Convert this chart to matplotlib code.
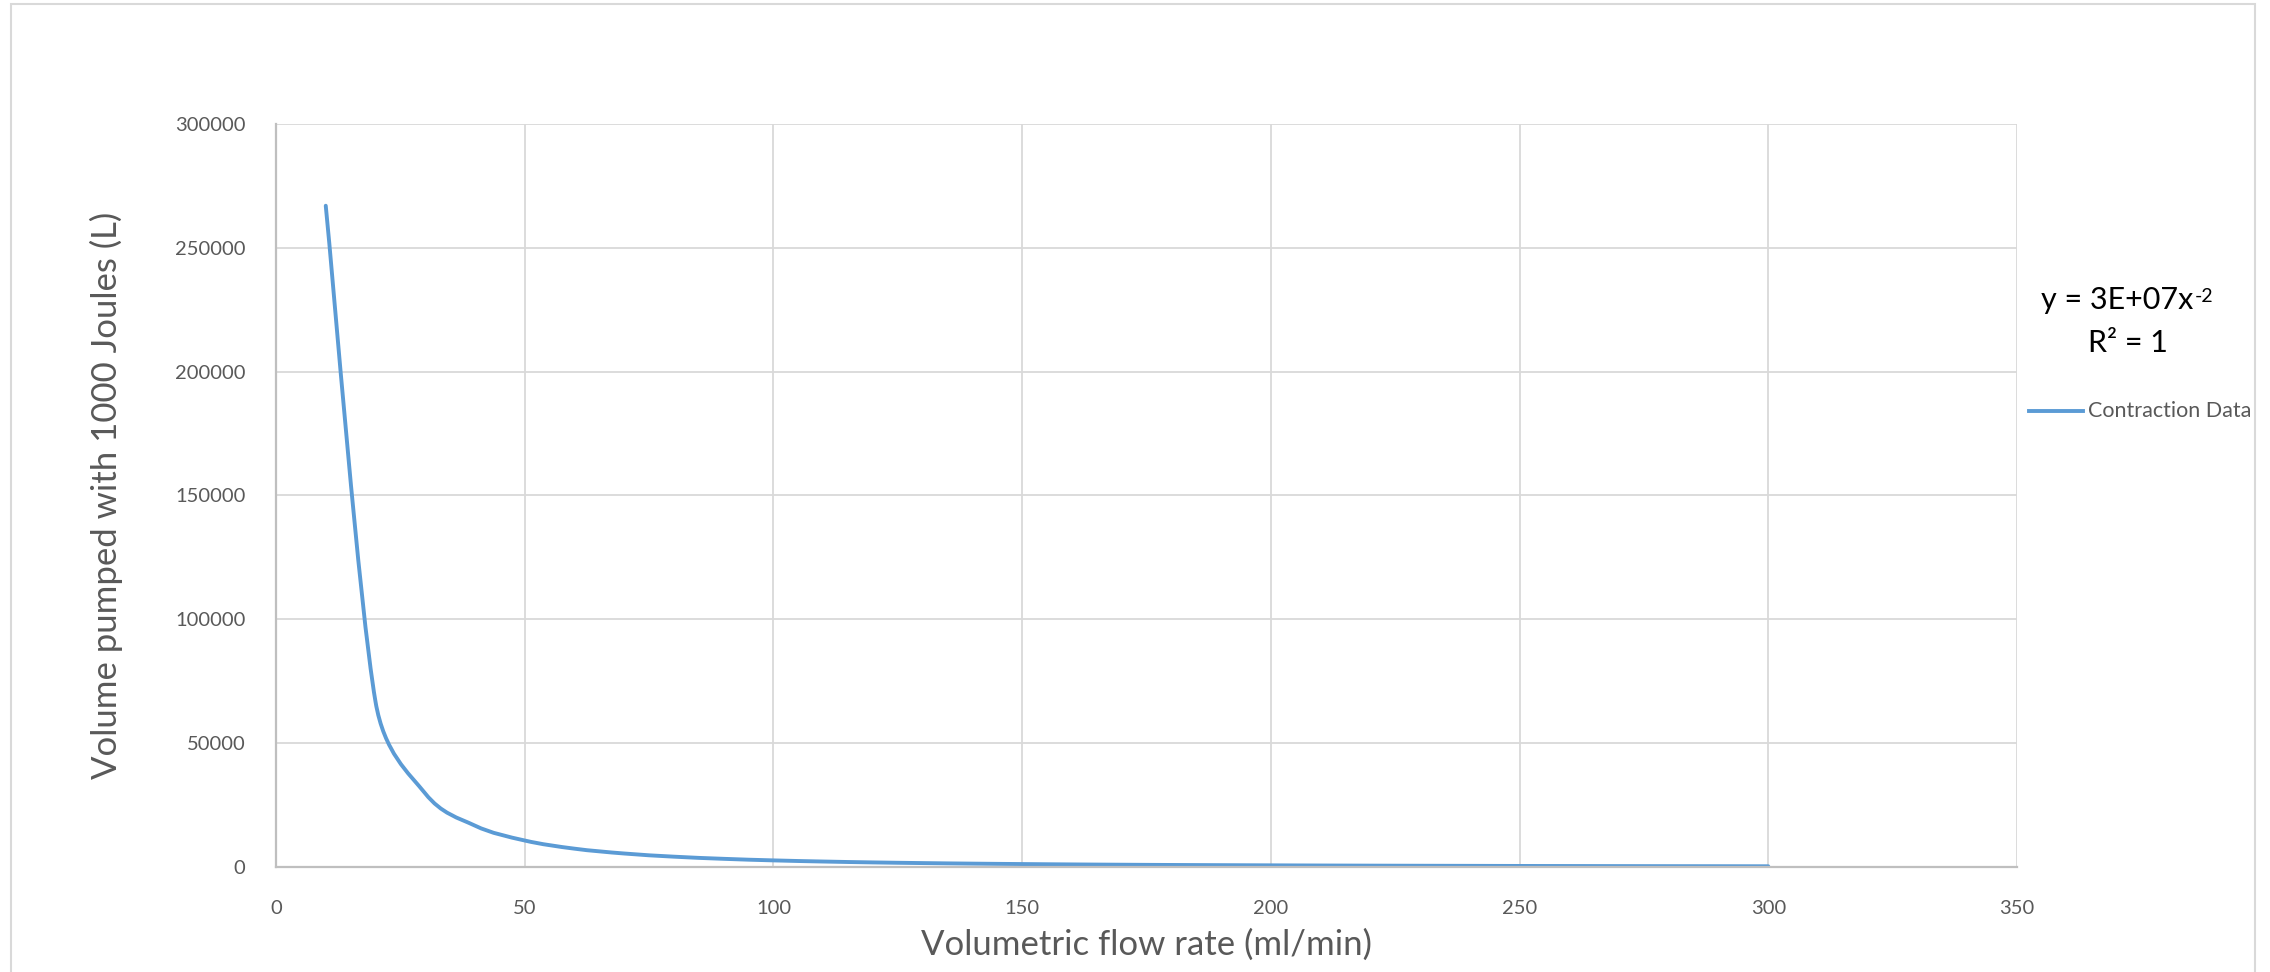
import matplotlib.pyplot as plt
import numpy as np
from matplotlib.path import Path
from matplotlib.patches import PathPatch, Rectangle
from matplotlib.lines import Line2D

# data (points every 10 ml/min)
flow = [10, 20, 30, 40, 50, 60, 70, 80, 90, 100,
        110, 120, 130, 140, 150, 160, 170, 180, 190, 200,
        210, 220, 230, 240, 250, 260, 270, 280, 290, 300]
volume = [267000, 66800, 29700, 16700, 10700, 7400, 5450, 4170, 3300, 2670,
          2210, 1850, 1580, 1360, 1190, 1040, 920, 820, 740, 670,
          605, 550, 505, 465, 425, 395, 365, 340, 320, 295]
xticks = [0, 50, 100, 150, 200, 250, 300, 350]
yticks = [0, 50000, 100000, 150000, 200000, 250000, 300000]

plt.rcParams['font.family'] = ['Lato', 'DejaVu Sans']

W, H = 2270, 972
blue = '#5b9bd5'
grey_text = '#595959'

fig = plt.figure(figsize=(W / 100, H / 100), dpi=100)
fig.patches.append(Rectangle((11 / W, -0.05), (2255 - 11) / W, 1.05 - 4 / H,
                             transform=fig.transFigure, fill=False,
                             edgecolor='#d9d9d9', linewidth=1.5))

ax = fig.add_axes([276 / W, 1 - 867 / H, (2017 - 276) / W, (867 - 124) / H])
ax.set_xlim(0, 350)
ax.set_ylim(0, 300000)
ax.set_xticks(xticks)
ax.set_yticks(yticks)
ax.grid(True, color='#d9d9d9', linewidth=1.3)
ax.set_axisbelow(True)
for s in ['top', 'right']:
    ax.spines[s].set_visible(False)
for s in ['left', 'bottom']:
    ax.spines[s].set_color('#bfbfbf')
    ax.spines[s].set_linewidth(1.6)
ax.tick_params(length=0, labelsize=14.5, labelcolor=grey_text)
ax.tick_params(axis='y', pad=22)
ax.tick_params(axis='x', pad=24)

# smoothed line like excel: bezier in screen space, control arms capped
pts = ax.transData.transform(np.column_stack([flow, volume]))
n = len(pts)
verts = [tuple(pts[0])]
codes = [Path.MOVETO]
for i in range(n - 1):
    p0 = pts[max(i - 1, 0)]
    p1 = pts[i]
    p2 = pts[i + 1]
    p3 = pts[min(i + 2, n - 1)]
    seg = np.hypot(*(p2 - p1))
    t1 = (p2 - p0) / 6
    t2 = (p3 - p1) / 6
    l1 = np.hypot(*t1)
    l2 = np.hypot(*t2)
    if l1 > 0.5 * seg:
        t1 = t1 * 0.5 * seg / l1
    if l2 > 0.5 * seg:
        t2 = t2 * 0.5 * seg / l2
    verts += [tuple(p1 + t1), tuple(p2 - t2), tuple(p2)]
    codes += [Path.CURVE4] * 3
verts = ax.transData.inverted().transform(np.array(verts))
ax.add_patch(PathPatch(Path(verts, codes), fill=False, edgecolor=blue,
                       linewidth=2.8, capstyle='round', joinstyle='round'))

ax.set_xlabel('Volumetric flow rate (ml/min)', fontsize=25, color=grey_text, va='center')
ax.xaxis.set_label_coords(0.5, (867 - 945) / (867 - 124))
ax.set_ylabel('Volume pumped with 1000 Joules (L)', fontsize=25, color=grey_text, va='center')
ax.yaxis.set_label_coords((106 - 276) / (2017 - 276), 0.5)

# trendline equation and legend
eq = fig.text(2193 / W, 1 - 300 / H, 'y = 3E+07x', fontsize=22, ha='right', va='center')
fig.text(2195 / W, 1 - 288 / H, '-2', fontsize=14, ha='left', va='top')
fig.text(2128 / W, 1 - 343 / H, 'R² = 1', fontsize=22, ha='center', va='center')
fig.lines.append(Line2D([2029 / W, 2083 / W], [1 - 411 / H, 1 - 411 / H],
                        transform=fig.transFigure, color=blue, linewidth=2.8))
fig.text(2088 / W, 1 - 411 / H, 'Contraction Data', fontsize=15.5, color=grey_text,
         ha='left', va='center')

fig.savefig('out.png', dpi=100)
